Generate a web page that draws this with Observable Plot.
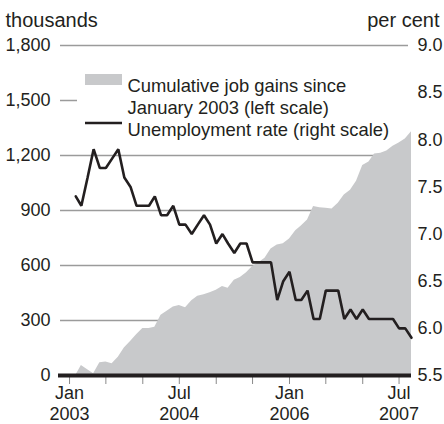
<!DOCTYPE html>
<html>
<head>
<meta charset="utf-8">
<script src="https://cdn.jsdelivr.net/npm/d3@7"></script>
<script src="https://cdn.jsdelivr.net/npm/@observablehq/plot@0.6"></script>
<style>
  html, body { margin: 0; padding: 0; background: #fff; }
  #chart svg { display: block; }
</style>
</head>
<body>
<div id="chart"></div>
<script>
// Monthly data, January 2003 to August 2007
const unemployment = [
  7.4, 7.3, 7.6, 7.9, 7.7, 7.7, 7.8, 7.9, 7.6, 7.5, 7.3, 7.3,
  7.3, 7.4, 7.2, 7.2, 7.3, 7.1, 7.1, 7.0, 7.1, 7.2, 7.1, 6.9,
  7.0, 6.9, 6.8, 6.9, 6.9, 6.7, 6.7, 6.7, 6.7, 6.3, 6.5, 6.6,
  6.3, 6.3, 6.4, 6.1, 6.1, 6.4, 6.4, 6.4, 6.1, 6.2, 6.1, 6.2,
  6.1, 6.1, 6.1, 6.1, 6.1, 6.0, 6.0, 5.9
];
const jobGains = [
  0, 55, 32, 9, 69, 73, 64, 100, 150, 185, 222, 257,
  256, 263, 328, 351, 374, 382, 369, 408, 432, 441, 451, 465,
  485, 476, 519, 535, 560, 595, 615, 640, 690, 712, 718, 745,
  790, 815, 848, 922, 915, 912, 908, 940, 985, 1010, 1060, 1145,
  1165, 1208, 1212, 1225, 1250, 1268, 1290, 1330
];
const leftTicks = [0, 300, 600, 900, 1200, 1500, 1800];
const rightTicks = [5.5, 6.0, 6.5, 7.0, 7.5, 8.0, 8.5, 9.0];
const tickMonthsLabel = ["Jan", "Jul", "Jan", "Jul"];
const tickYearsLabel = ["2003", "2004", "2006", "2007"];
const tickLabelDates = [[2003, 0], [2004, 6], [2006, 0], [2007, 6]];
const legendLabels = ["Cumulative job gains since", "January 2003 (left scale)", "Unemployment rate (right scale)"];

const leftMax = 1800, rMin = 5.5, rMax = 9.0;
const toLeft = r => (r - rMin) / (rMax - rMin) * leftMax;
const fromLeft = v => rMin + v / leftMax * (rMax - rMin);

// values are plotted at the end of each month
const data = unemployment.map((r, i) => ({
  date: new Date(Date.UTC(2003, i + 1, 1)),
  rate: r,
  gains: jobGains[i]
}));

const tickDates = d3.utcMonth.every(6).range(new Date(Date.UTC(2003, 0, 1)), new Date(Date.UTC(2007, 7, 1)));
const labelKey = tickLabelDates.map(([y, m]) => Date.UTC(y, m, 1));
const monthFmt = d => { const k = labelKey.indexOf(+d); return k >= 0 ? tickMonthsLabel[k] : ""; };
const yearFmt = d => { const k = labelKey.indexOf(+d); return k >= 0 ? tickYearsLabel[k] : ""; };

const ink = "#231f20";
const font = "'Liberation Sans', Arial, Helvetica, sans-serif";

const chart = Plot.plot({
  width: 444,
  height: 424,
  marginLeft: 58,
  marginRight: 33,
  marginTop: 45,
  marginBottom: 49,
  style: { fontFamily: font, fontSize: "18px", color: ink, background: "#fff", overflow: "visible" },
  x: { type: "utc", domain: [new Date(Date.UTC(2002, 10, 7)), new Date(Date.UTC(2007, 8, 1))] },
  y: { domain: [0, leftMax] },
  marks: [
    Plot.ruleY(leftTicks.filter(v => v > 0), { stroke: "#9b9b9b", strokeWidth: 1.5, insetLeft: 2, insetRight: 3 }),
    Plot.areaY(data, { x: "date", y: "gains", fill: "#c8c9cb" }),
    Plot.lineY(data, { x: "date", y: d => toLeft(d.rate), stroke: ink, strokeWidth: 2.6, strokeLinejoin: "miter" }),
    Plot.axisY({ ticks: leftTicks, tickSize: 0, tickPadding: 8, tickFormat: d3.format(","), fontSize: 18, fill: ink, label: null }),
    Plot.axisY({ anchor: "right", ticks: rightTicks.map(toLeft), tickSize: 0, tickPadding: 6, tickFormat: v => fromLeft(v).toFixed(1), fontSize: 18, fill: ink, label: null }),
    Plot.axisX({ ticks: tickDates, tickSize: 9, tickPadding: 2, stroke: "#8a8a8a", fill: ink, tickFormat: monthFmt, fontSize: 18, label: null }),
    Plot.axisX({ ticks: tickDates, tickSize: 0, tickPadding: 32, fill: ink, tickFormat: yearFmt, fontSize: 18, label: null }),
    Plot.ruleY([0], { stroke: ink, strokeWidth: 4 }),
    Plot.text(["thousands"], { frameAnchor: "top-left", dx: -53, dy: -33, textAnchor: "start", fontSize: 20, fill: ink }),
    Plot.text(["per cent"], { frameAnchor: "top-right", dx: 28, dy: -33, textAnchor: "end", fontSize: 20, fill: ink }),
    Plot.text([legendLabels[0]], { frameAnchor: "top-left", dx: 69, dy: 33, textAnchor: "start", fontSize: 18.4, fill: ink }),
    Plot.text([legendLabels[1]], { frameAnchor: "top-left", dx: 69, dy: 55, textAnchor: "start", fontSize: 18.4, fill: ink }),
    Plot.text([legendLabels[2]], { frameAnchor: "top-left", dx: 69, dy: 77.5, textAnchor: "start", fontSize: 18.4, fill: ink })
  ]
});

// legend decorations
const svg = d3.select(chart);
const areaG = chart.querySelector("g[aria-label='area']");
const bg = document.createElementNS("http://www.w3.org/2000/svg", "rect");
bg.setAttribute("x", 77); bg.setAttribute("y", 92); bg.setAttribute("width", 333); bg.setAttribute("height", 16);
bg.setAttribute("fill", "#fff");
chart.insertBefore(bg, areaG);
svg.append("rect").attr("x", 85).attr("y", 74).attr("width", 37).attr("height", 11).attr("fill", "#c8c9cb");
svg.append("line").attr("x1", 85).attr("x2", 122).attr("y1", 123).attr("y2", 123).attr("stroke", ink).attr("stroke-width", 2.5);

document.getElementById("chart").appendChild(chart);
</script>
</body>
</html>
